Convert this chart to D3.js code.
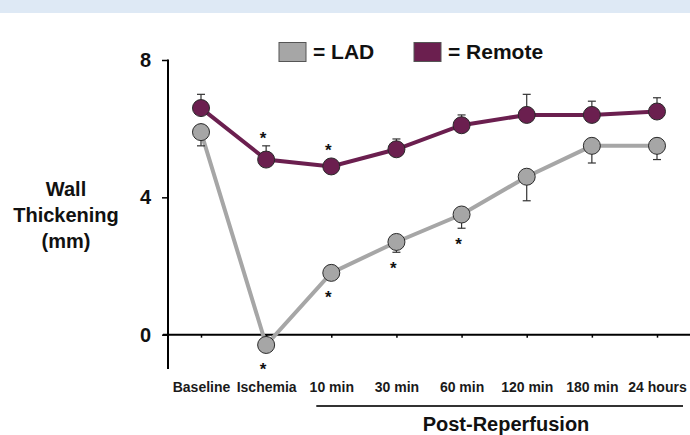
<!DOCTYPE html>
<html><head><meta charset="utf-8">
<script src="https://cdn.jsdelivr.net/npm/d3@7/dist/d3.min.js"></script>
<style>body{margin:0;background:#fff}svg{display:block}text{font-family:"Liberation Sans",Arial,sans-serif;font-weight:bold}</style>
</head><body>
<svg id="c" width="690" height="435"></svg>
<script>
const categories = ["Baseline","Ischemia","10 min","30 min","60 min","120 min","180 min","24 hours"];
const remoteValues = [6.6, 5.1, 4.9, 5.4, 6.1, 6.4, 6.4, 6.5];
const remoteErrors = [0.4, 0.4, 0.0, 0.3, 0.3, 0.6, 0.4, 0.4];
const ladValues = [5.9, -0.3, 1.8, 2.7, 3.5, 4.6, 5.5, 5.5];
const ladErrors = [0.4, 0.0, 0.0, 0.3, 0.4, 0.7, 0.5, 0.4];
const remoteSig = [false, true, true, false, false, false, false, false];
const ladSig = [false, true, true, true, true, false, false, false];
const yTicks = [0, 4, 8];

const FONT = "Liberation Sans, Arial, sans-serif";
const svg = d3.select("#c");
svg.append("rect").attr("x",0).attr("y",0).attr("width",690).attr("height",13).attr("fill","#dee9f5");

const x = d3.scalePoint().domain(categories).range([201, 657]);
const y = d3.scaleLinear().domain([-1, 8]).range([369, 60]);
const R = 8.5;

// y axis
const yAx = svg.append("g").attr("transform","translate(168,0)")
  .call(d3.axisLeft(y).tickValues(yTicks).tickSize(6).tickSizeOuter(0).tickPadding(11));
yAx.select(".domain").remove();
yAx.selectAll(".tick line").attr("stroke","#000").attr("stroke-width",1.5);
yAx.selectAll(".tick text").attr("font-size",20).attr("fill","#111").attr("font-family",FONT);
svg.append("line").attr("x1",168).attr("x2",168).attr("y1",y(8)-0.5).attr("y2",y(-1)).attr("stroke","#000").attr("stroke-width",2);

// x axis at zero
const xAx = svg.append("g").attr("transform",`translate(0,${y(0)})`)
  .call(d3.axisBottom(x).tickSize(3).tickSizeOuter(0).tickPadding(44));
xAx.select(".domain").remove();
xAx.selectAll(".tick line").attr("stroke","#000").attr("stroke-width",1.5);
xAx.selectAll(".tick text").attr("font-size",14).attr("fill","#1a1a1a").attr("font-family",FONT);
svg.append("line").attr("x1",163).attr("x2",690).attr("y1",y(0)).attr("y2",y(0)).attr("stroke","#000").attr("stroke-width",2);

// post-reperfusion bracket
svg.append("line").attr("x1",x("10 min")-15).attr("x2",x("24 hours")+26).attr("y1",406).attr("y2",406).attr("stroke","#333").attr("stroke-width",2.2);
svg.append("text").attr("x",506).attr("y",431).attr("text-anchor","middle").attr("font-size",20).attr("fill","#111").text("Post-Reperfusion");

// y label
const yl = svg.append("text").attr("text-anchor","middle").attr("font-size",20).attr("fill","#111");
[["Wall",196],["Thickening",222],["(mm)",248]].forEach(([t,yy])=>yl.append("tspan").attr("x",66).attr("y",yy).text(t));

function drawSeries(vals, errs, color, errUp){
  const line = d3.line().x((d,i)=>x(categories[i])).y(d=>y(d));
  svg.append("path").datum(vals).attr("d",line).attr("fill","none").attr("stroke",color).attr("stroke-width",4);
  const g = svg.append("g");
  vals.forEach((v,i)=>{
    const e = errs[i]; if(e<=0) return;
    const cx = x(categories[i]);
    const ye = errUp ? y(v+e) : y(v-e);
    g.append("line").attr("x1",cx).attr("x2",cx).attr("y1",y(v)).attr("y2",ye).attr("stroke","#333").attr("stroke-width",1.2);
    g.append("line").attr("x1",cx-4).attr("x2",cx+4).attr("y1",ye).attr("y2",ye).attr("stroke","#333").attr("stroke-width",1.2);
  });
  svg.append("g").selectAll("circle").data(vals).join("circle")
    .attr("cx",(d,i)=>x(categories[i])).attr("cy",d=>y(d)).attr("r",R)
    .attr("fill",color).attr("stroke","#2a2a2a").attr("stroke-width",1);
}
drawSeries(ladValues, ladErrors, "#a6a6a6", false);
drawSeries(remoteValues, remoteErrors, "#6b1f4f", true);

// asterisks
const SF = 17;
function star(cx, cy){
  svg.append("text").attr("x",cx).attr("y",cy+0.57*SF).attr("text-anchor","middle").attr("font-size",SF).attr("fill","#111").text("*");
}
remoteSig.forEach((s,i)=>{ if(!s) return;
  const top = Math.min(y(remoteValues[i]+remoteErrors[i]), y(remoteValues[i])-R);
  star(x(categories[i])-3, top-12);
});
ladSig.forEach((s,i)=>{ if(!s) return;
  const bot = Math.max(y(ladValues[i]-ladErrors[i]), y(ladValues[i])+R);
  star(x(categories[i])-3, bot+12);
});

// legend
const leg = [["= LAD","#a6a6a6",279],["= Remote","#6b1f4f",414]];
leg.forEach(([t,c,lx])=>{
  svg.append("rect").attr("x",lx).attr("y",42.5).attr("width",27).attr("height",19).attr("fill",c).attr("stroke","#555").attr("stroke-width",1);
  svg.append("text").attr("x",lx+34).attr("y",59).attr("font-size",21).attr("fill","#111").text(t);
});
</script>
</body></html>
